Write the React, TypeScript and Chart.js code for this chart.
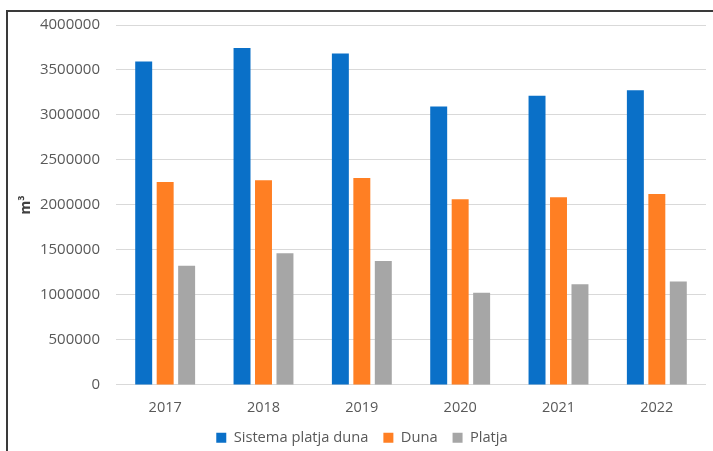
import React, { useEffect, useRef } from "react";
import { Chart, registerables } from "chart.js";

Chart.register(...registerables);

const years = ["2017", "2018", "2019", "2020", "2021", "2022"];
const sistemaPlatjaDuna = [3593000, 3745000, 3682000, 3095000, 3213000, 3275000];
const duna = [2256000, 2275000, 2300000, 2064000, 2086000, 2123000];
const platja = [1325000, 1463000, 1377000, 1023000, 1119000, 1148000];
const yTicks = [0, 500000, 1000000, 1500000, 2000000, 2500000, 3000000, 3500000, 4000000];

const FONT = "'Open Sans', 'Noto Sans', sans-serif";

const legendShift = {
  id: "legendShift",
  afterLayout(chart: any) {
    const lg = chart.legend;
    if (lg) {
      lg.top -= 7;
      lg.bottom -= 7;
    }
  },
};

export default function App() {
  const canvasRef = useRef<HTMLCanvasElement | null>(null);

  useEffect(() => {
    const canvas = canvasRef.current;
    if (!canvas) return;
    const chart = new Chart(canvas, {
      type: "bar",
      data: {
        labels: years,
        datasets: [
          { label: "Sistema platja duna", data: sistemaPlatjaDuna, backgroundColor: "#0A70C8" },
          { label: "Duna", data: duna, backgroundColor: "#FF7F23" },
          { label: "Platja", data: platja, backgroundColor: "#A6A6A6" },
        ],
      },
      plugins: [legendShift],
      options: {
        responsive: false,
        animation: false,
        devicePixelRatio: 1,
        layout: { padding: { left: 18, right: 7, top: 16, bottom: -11 } },
        datasets: { bar: { categoryPercentage: 0.655, barPercentage: 0.79 } },
        plugins: {
          tooltip: { enabled: false },
          legend: {
            position: "bottom",
            labels: {
              boxWidth: 10,
              boxHeight: 10,
              padding: 15,
              color: "#595959",
              font: { family: FONT, size: 14.7 },
            },
          },
        },
        scales: {
          x: {
            grid: { display: false },
            border: { display: false },
            ticks: { color: "#595959", font: { family: FONT, size: 14.5 }, padding: 6 },
          },
          y: {
            min: 0,
            max: 4000000,
            afterBuildTicks: (s: any) => {
              s.ticks = yTicks.map((v) => ({ value: v }));
            },
            afterFit: (s: any) => {
              s.width = 98;
            },
            grid: { color: "#D9D9D9", lineWidth: 1, drawTicks: false },
            border: { display: false },
            ticks: {
              color: "#595959",
              font: { family: FONT, size: 15 },
              padding: 16,
              callback: (v: any) => String(v),
            },
            title: {
              display: true,
              text: "m³",
              color: "#404040",
              font: { family: FONT, size: 14, weight: "bold" },
              padding: 0,
            },
          },
        },
      },
    });
    return () => chart.destroy();
  }, []);

  return (
    <div style={{ position: "fixed", left: 0, top: 0, width: 713, height: 451, background: "#fff", overflow: "hidden" }}>
      <canvas ref={canvasRef} width={713} height={451} style={{ position: "absolute", left: 0, top: 0 }} />
      <div
        style={{
          position: "absolute",
          left: 6,
          top: 10,
          width: 800,
          height: 500,
          borderTop: "2px solid #3a3a3a",
          borderLeft: "2px solid #3a3a3a",
          pointerEvents: "none",
        }}
      />
    </div>
  );
}
